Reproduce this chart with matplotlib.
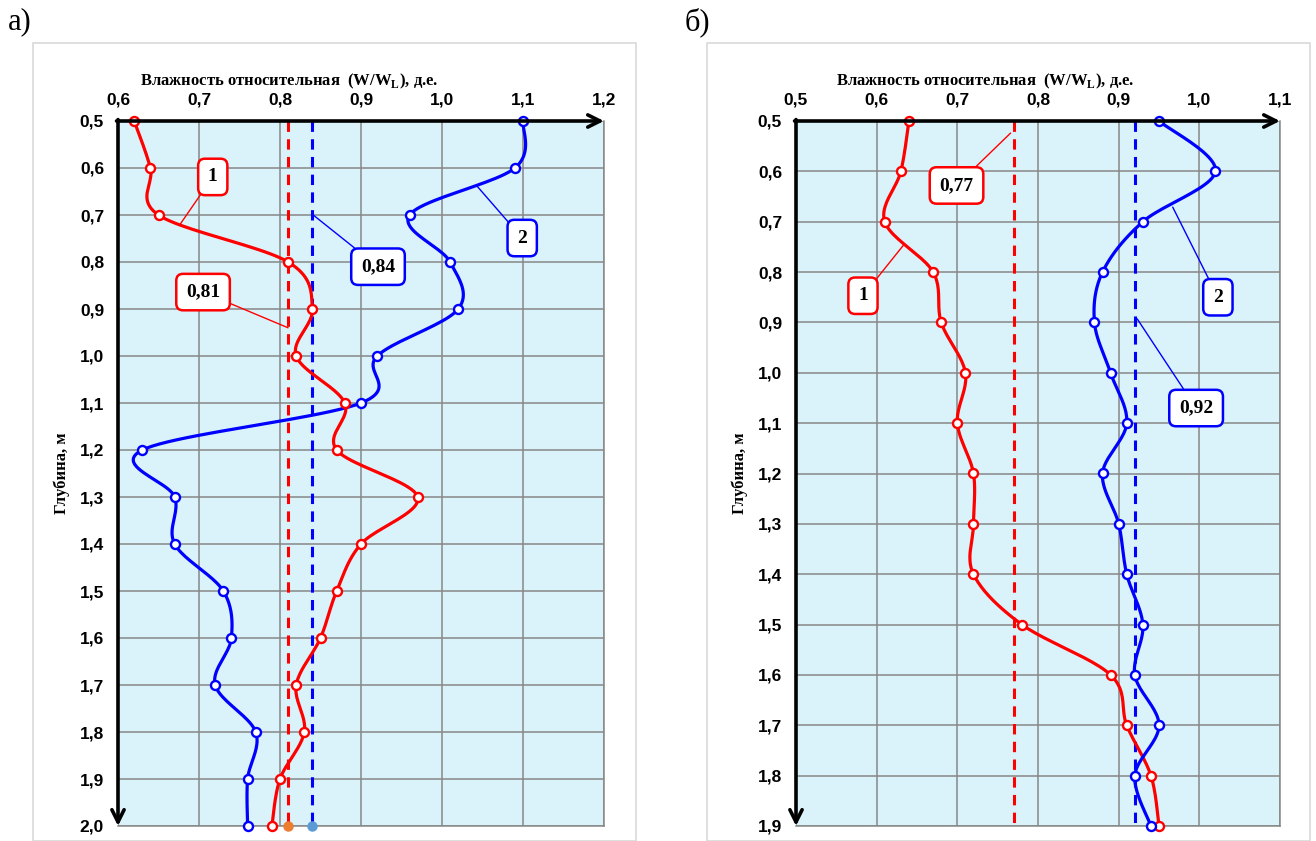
import numpy as np
import matplotlib
matplotlib.use("Agg")
import matplotlib.pyplot as plt
from matplotlib.patches import Rectangle
from matplotlib.ticker import FuncFormatter, MultipleLocator

plt.rcParams['mathtext.fontset'] = 'custom'
plt.rcParams['mathtext.rm'] = 'Liberation Serif:bold'

# panel а)
depth_a = [0.5, 0.6, 0.7, 0.8, 0.9, 1.0, 1.1, 1.2, 1.3, 1.4, 1.5, 1.6, 1.7, 1.8, 1.9, 2.0]
red_a = [0.62, 0.64, 0.65, 0.81, 0.84, 0.82, 0.88, 0.87, 0.97, 0.90, 0.87, 0.85, 0.82, 0.83, 0.80, 0.79]
blue_a = [1.10, 1.09, 0.96, 1.01, 1.02, 0.92, 0.90, 0.63, 0.67, 0.67, 0.73, 0.74, 0.72, 0.77, 0.76, 0.76]
mean_red_a = 0.81
mean_blue_a = 0.84

# panel б)
depth_b = [0.5, 0.6, 0.7, 0.8, 0.9, 1.0, 1.1, 1.2, 1.3, 1.4, 1.5, 1.6, 1.7, 1.8, 1.9]
red_b = [0.64, 0.63, 0.61, 0.67, 0.68, 0.71, 0.70, 0.72, 0.72, 0.72, 0.78, 0.89, 0.91, 0.94, 0.95]
blue_b = [0.95, 1.02, 0.93, 0.88, 0.87, 0.89, 0.91, 0.88, 0.90, 0.91, 0.93, 0.92, 0.95, 0.92, 0.94]
mean_red_b = 0.77
mean_blue_b = 0.92

RED = '#FF0000'
BLUE = '#0000FF'
BG = '#DAF3FA'
GRIDC = '#878787'
xtitle = r'Влажность относительная  (W/W$_\mathrm{L}$), д.е.'


def smooth(ax, xs, ys, n=24):
    # Excel-like smoothed line (Bezier through points), built in screen space
    pts = ax.transData.transform(np.column_stack([xs, ys]))
    P = np.vstack([pts[0], pts, pts[-1]])
    t = np.linspace(0, 1, n)[:, None]
    segs = []
    for i in range(1, len(P) - 2):
        p0, p1, p2, p3 = P[i - 1], P[i], P[i + 1], P[i + 2]
        c1 = p1 + (p2 - p0) / 6
        c2 = p2 - (p3 - p1) / 6
        segs.append((1 - t) ** 3 * p1 + 3 * (1 - t) ** 2 * t * c1
                    + 3 * (1 - t) * t ** 2 * c2 + t ** 3 * p2)
    return ax.transData.inverted().transform(np.vstack(segs))


def comma(v, pos):
    return f"{v:.1f}".replace('.', ',')


def setup(ax, xlim, ylim, label_x):
    ax.set_xlim(*xlim)
    ax.set_ylim(ylim[1], ylim[0])
    ax.set_facecolor(BG)
    ax.xaxis.tick_top()
    ax.xaxis.set_major_locator(MultipleLocator(0.1))
    ax.yaxis.set_major_locator(MultipleLocator(0.1))
    ax.xaxis.set_major_formatter(FuncFormatter(comma))
    ax.yaxis.set_major_formatter(FuncFormatter(comma))
    ax.tick_params(length=0, labelsize=12.5, pad=10)
    for lab in ax.get_xticklabels() + ax.get_yticklabels():
        lab.set_fontweight('bold')
        lab.set_family('Liberation Sans')
    ax.grid(True, color=GRIDC, lw=1.1)
    ax.set_axisbelow(True)
    for s in ['top', 'left']:
        ax.spines[s].set_visible(False)
    for s in ['bottom', 'right']:
        ax.spines[s].set_color(GRIDC)
        ax.spines[s].set_linewidth(1.1)
    ax.xaxis.set_label_position('top')
    ax.set_xlabel(xtitle, fontsize=12, fontweight='bold', family='Liberation Serif')
    ax.xaxis.set_label_coords(label_x, 1.051)
    ax.set_ylabel('Глубина, м', fontsize=12, fontweight='bold', family='Liberation Serif')
    ax.yaxis.set_label_coords(-0.099, 0.5)
    arrow = dict(arrowstyle='->', lw=2.6, color='black', mutation_scale=22,
                 shrinkA=0, shrinkB=0)
    ax.annotate('', xy=(1.0, 1.0), xytext=(-0.003, 1.0), xycoords='axes fraction',
                arrowprops=arrow, annotation_clip=False, zorder=6)
    ax.annotate('', xy=(0.0, 0.0), xytext=(0.0, 1.002), xycoords='axes fraction',
                arrowprops=arrow, annotation_clip=False, zorder=6)


def series(ax, xs, ys, color):
    c = smooth(ax, xs, ys)
    ax.plot(c[:, 0], c[:, 1], color=color, lw=2.3, zorder=4, clip_on=False)
    ax.plot(xs, ys, 'o', ms=6.5, mfc='white', mec=color, mew=1.7, zorder=5, clip_on=False)


def mean_line(ax, v, y0, y1, color):
    ax.plot([v, v], [y0, y1], color=color, lw=2.2, dashes=(3.4, 2.4), zorder=3)


def tag(ax, text, xy, xytext, color):
    ax.annotate(text, xy=xy, xytext=xytext, fontsize=14, fontweight='bold',
                family='Liberation Serif', ha='center', va='center', zorder=7,
                bbox=dict(boxstyle='round,pad=0.5,rounding_size=0.35', fc='white',
                          ec=color, lw=1.8),
                arrowprops=dict(arrowstyle='-', color=color, lw=1.0, shrinkA=0, shrinkB=0))


fig = plt.figure(figsize=(13.16, 8.41), dpi=100)

for x0, x1 in [(33, 636), (707, 1310)]:
    fig.add_artist(Rectangle((x0 / 1316, 0), (x1 - x0) / 1316, (841 - 43) / 841,
                             transform=fig.transFigure, fill=False, ec='#D9D9D9', lw=1.2))

fig.text(8 / 1316, 1 - 22 / 841, 'а)', fontsize=22, family='Liberation Serif', va='center')
fig.text(685 / 1316, 1 - 22 / 841, 'б)', fontsize=22, family='Liberation Serif', va='center')

# --- а)
ax1 = fig.add_axes([118 / 1316, 1 - 826 / 841, 486 / 1316, 705 / 841])
setup(ax1, (0.6, 1.2), (0.5, 2.0), 0.352)
mean_line(ax1, mean_red_a, 0.5, 2.0, RED)
mean_line(ax1, mean_blue_a, 0.5, 2.0, BLUE)
ax1.plot([mean_red_a], [2.0], 'o', ms=6.5, color='#ED7D31', zorder=5, clip_on=False)
ax1.plot([mean_blue_a], [2.0], 'o', ms=6.5, color='#5B9BD5', zorder=5, clip_on=False)
series(ax1, blue_a, depth_a, BLUE)
series(ax1, red_a, depth_a, RED)
tag(ax1, '1', (0.677, 0.719), (0.717, 0.619), RED)
tag(ax1, '0,81', (0.81, 0.94), (0.705, 0.864), RED)
tag(ax1, '0,84', (0.841, 0.70), (0.921, 0.81), BLUE)
tag(ax1, '2', (1.043, 0.638), (1.099, 0.749), BLUE)

# --- б)
ax2 = fig.add_axes([796 / 1316, 1 - 826 / 841, 484 / 1316, 705 / 841])
setup(ax2, (0.5, 1.1), (0.5, 1.9), 0.39)
mean_line(ax2, mean_red_b, 0.5, 1.9, RED)
mean_line(ax2, mean_blue_b, 0.5, 1.9, BLUE)
series(ax2, red_b, depth_b, RED)
series(ax2, blue_b, depth_b, BLUE)
tag(ax2, '0,77', (0.766, 0.524), (0.699, 0.628), RED)
tag(ax2, '1', (0.634, 0.745), (0.583, 0.847), RED)
tag(ax2, '2', (0.967, 0.671), (1.023, 0.85), BLUE)
tag(ax2, '0,92', (0.923, 0.893), (0.996, 1.07), BLUE)

fig.savefig('out.png', dpi=100)
